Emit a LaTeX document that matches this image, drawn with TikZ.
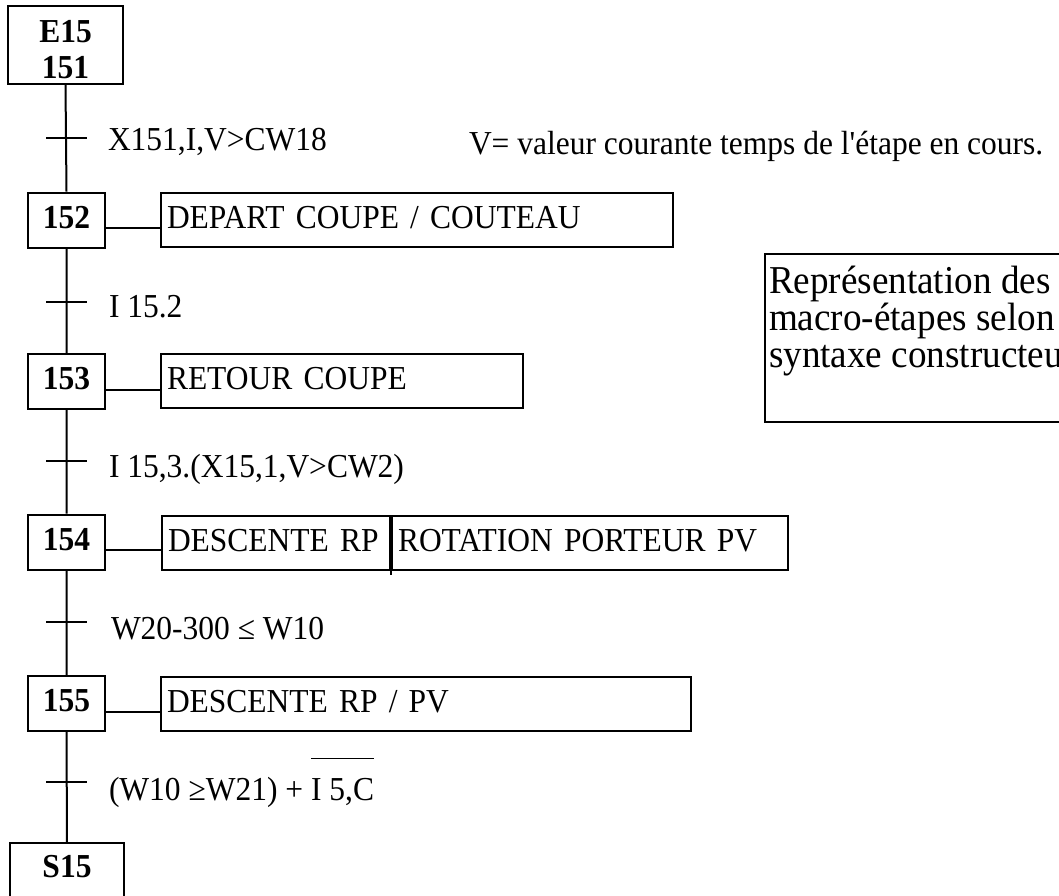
\documentclass[tikz,border=0pt]{standalone}
\usepackage{fontspec}
\setmainfont{Liberation Serif}[Ligatures=TeXOff, FakeStretch=0.94]
\usetikzlibrary{calc}
% bar drawn high above a piece of text (negated input)
\newcommand\barover[1]{\setbox0=\hbox{#1}\rlap{\rule[1.22em]{\wd0}{1.6pt}}\box0}
\begin{document}
\begin{tikzpicture}[x=1pt,y=-1pt,line width=2pt,
  txt/.style={font=\fontsize{33.5}{36}\selectfont},
  stepbox/.style={draw, fill=white, minimum width=77pt, minimum height=55pt,
    inner sep=0pt, font=\fontsize{33.5}{36}\selectfont\bfseries,
    text height=22pt, text depth=6pt},
  actbox/.style={draw, anchor=north west, minimum height=54pt, inner xsep=6pt,
    inner ysep=0pt, text height=22pt, text depth=6pt, align=left, txt},
  cond/.style={anchor=base west, inner sep=0pt, txt},
  tick/.style={line width=2pt}]
\useasboundingbox (0,0) rectangle (1059,895);
\clip (0,0) rectangle (1059,895);

% steps of the macro-step
\node[draw, fill=white, minimum width=115pt, minimum height=78pt, inner sep=0pt,
  align=center, font=\fontsize{33.5}{36}\selectfont\bfseries]
  (e15) at (65.5,45) {\rule{0pt}{32pt}E15\\151};
\node[stepbox] (s152) at (66.5,220) {152};
\node[stepbox] (s153) at (66.5,381.5) {153};
\node[stepbox] (s154) at (66.5,542) {154};
\node[stepbox] (s155) at (66.5,703.5) {155};
\node[stepbox, anchor=north, minimum width=114pt, minimum height=0pt,
  inner ysep=12pt, text depth=80pt] (s15) at (67,842) {S15};

% actions
\node[actbox, text width=500pt] (a152) at (160,192) {DEPART COUPE / COUTEAU};
\node[actbox, text width=350pt] (a153) at (160,353) {RETOUR COUPE};
\node[actbox, text width=216pt] (a154a) at (161,515) {DESCENTE RP};
\node[actbox, text width=384pt] (a154b) at (a154a.north east) {ROTATION PORTEUR PV};
\node[actbox, text width=518pt] (a155) at (160,676) {DESCENTE RP / PV};
\draw[line width=1.6pt] (a154a.south east) -- ++(0,4);

% step-to-action links
\foreach \s/\a in {152/152,153/153,154/154a,155/155}{
  \coordinate (l\s) at ($(s\s.east)+(0,8)$);
  \draw (l\s) -- (l\s -| a\a.west);
}

% sequence line
\draw (e15.south) -- (s152.north) (s152.south) -- (s153.north)
      (s153.south) -- (s154.north) (s154.south) -- (s155.north)
      (s155.south) -- (s15.north);

% transitions
\coordinate (t1) at (66,138);
\coordinate (t2) at (66,302);
\coordinate (t3) at (66,461);
\coordinate (t4) at (66,622);
\coordinate (t5) at (66,782);
\foreach \t in {t1,t2,t3,t4,t5}
  \draw[tick] ($(\t)+(-20,0)$) -- ($(\t)+(21,0)$);

\node[cond] (c1) at (107,150) {X151,I,V>CW18};
\node[cond] (c2) at (108,317) {I 15.2};
\node[cond] (c3) at (108,477) {I 15,3.(X15,1,V>CW2)};
\node[cond] (c4) at (110,639) {W20-300 ≤ W10};
\node[cond] (c5) at (108,800) {(W10 ≥W21) + \barover{I 5,C}};

\node[cond] (rem) at (468,154) {V= valeur courante temps de l'étape en cours.};

% note box
\node[draw, anchor=north west, minimum width=400pt, minimum height=168pt,
  inner sep=0pt] (note) at (764,253) {};
\node[anchor=north west, inner sep=0pt, align=left,
  font=\fontsize{39.5}{37}\selectfont] (notetxt) at (768,264)
  {\rule{0pt}{28pt}Représentation des\\macro-étapes selon\\syntaxe constructeur};
\end{tikzpicture}
\end{document}
